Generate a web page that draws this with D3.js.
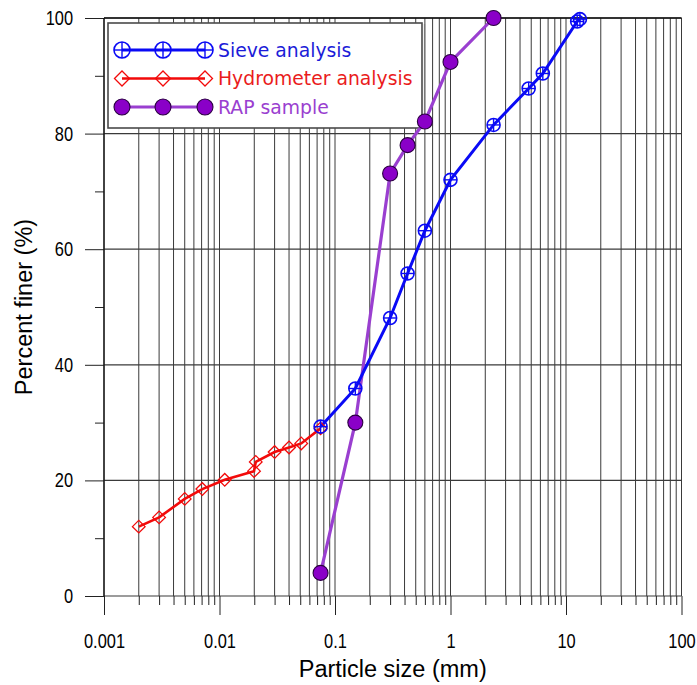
<!DOCTYPE html>
<html>
<head>
<meta charset="utf-8">
<script src="https://cdn.jsdelivr.net/npm/d3@7"></script>
<style>
  html, body { margin: 0; padding: 0; background: #fff; }
  svg { display: block; }
  .num { font-family: "Liberation Sans", Arial, sans-serif; font-size: 20px; fill: #000; }
  .title { font-family: "Liberation Sans", Arial, sans-serif; font-size: 23.5px; fill: #000; }
  .leg { font-family: "DejaVu Sans", Verdana, sans-serif; font-size: 18.8px; }
</style>
</head>
<body>
<svg id="chart" width="697" height="685"></svg>
<script>
// Grain-size distribution curves
const sieveSize    = [0.075, 0.15, 0.30, 0.425, 0.60, 1.0, 2.36, 4.75, 6.3, 12.5, 13.2];
const sievePassing = [29.3, 35.9, 48.1, 55.8, 63.2, 72.0, 81.5, 87.8, 90.4, 99.4, 99.8];

const hydroSize    = [0.002, 0.003, 0.005, 0.0071, 0.0111, 0.0199, 0.0206, 0.030, 0.040, 0.051, 0.075];
const hydroPassing = [12.0, 13.6, 16.8, 18.5, 20.1, 21.6, 23.2, 24.9, 25.7, 26.4, 29.0];

const rapSize    = [0.075, 0.15, 0.30, 0.425, 0.60, 1.0, 2.36];
const rapPassing = [4.0, 30.0, 73.1, 78.0, 82.1, 92.4, 100.0];

const xMajorTicks = [0.001, 0.01, 0.1, 1, 10, 100];
const xTickLabels = ["0.001", "0.01", "0.1", "1", "10", "100"];
const yMajorTicks = [0, 20, 40, 60, 80, 100];
const yMinorTicks = [10, 30, 50, 70, 90];

const seriesNames = ["Sieve analysis", "Hydrometer analysis", "RAP sample"];

const svg = d3.select("#chart");
const L = 104, R = 681.5, T = 18, B = 596;

const x = d3.scaleLog().domain([0.001, 100]).range([L, R]);
const y = d3.scaleLinear().domain([0, 100]).range([B, T]);

// minor log positions: 2..9 x 10^k
const xMinorTicks = [];
for (let k = -3; k < 2; k++) {
  for (let m = 2; m <= 9; m++) xMinorTicks.push(m * Math.pow(10, k));
}
const xAllTicks = xMinorTicks.concat(xMajorTicks);

// vertical grid
svg.append("g").selectAll("line").data(xAllTicks).join("line")
  .attr("x1", d => x(d)).attr("x2", d => x(d))
  .attr("y1", T).attr("y2", B)
  .attr("stroke", "#3a3a3a").attr("stroke-width", 1);

// horizontal grid
svg.append("g").selectAll("line").data(yMajorTicks).join("line")
  .attr("x1", L).attr("x2", R)
  .attr("y1", d => y(d)).attr("y2", d => y(d))
  .attr("stroke", "#3a3a3a").attr("stroke-width", 1.2);

// narrow the numeric tick labels
function condense(sel) {
  sel.attr("class", "num").attr("font-size", null).attr("font-family", null)
    .each(function () {
      const w = this.getComputedTextLength();
      d3.select(this).attr("textLength", w * 0.82).attr("lengthAdjust", "spacingAndGlyphs");
    });
}

// x axis: minor and major ticks below the frame
const gxMinor = svg.append("g").attr("transform", `translate(0,${B})`)
  .call(d3.axisBottom(x).tickValues(xMinorTicks).tickSize(9).tickFormat(""));
const gxMajor = svg.append("g").attr("transform", `translate(0,${B})`)
  .call(d3.axisBottom(x).tickValues(xMajorTicks).tickSize(19).tickPadding(19)
    .tickFormat((d, i) => xTickLabels[i]));
[gxMinor, gxMajor].forEach(g => {
  g.select(".domain").remove();
  g.selectAll(".tick line").attr("stroke", "#222");
});
condense(gxMajor.selectAll(".tick text"));

// y axis: minor and major ticks left of the frame
const gyMinor = svg.append("g").attr("transform", `translate(${L},0)`)
  .call(d3.axisLeft(y).tickValues(yMinorTicks).tickSize(9).tickFormat(""));
const gyMajor = svg.append("g").attr("transform", `translate(${L},0)`)
  .call(d3.axisLeft(y).tickValues(yMajorTicks).tickSize(19).tickPadding(12));
[gyMinor, gyMajor].forEach(g => {
  g.select(".domain").remove();
  g.selectAll(".tick line").attr("stroke", "#222");
});
condense(gyMajor.selectAll(".tick text"));

// frame lines (left axis and top)
svg.append("line").attr("x1", L).attr("x2", L).attr("y1", T).attr("y2", B)
  .attr("stroke", "#111").attr("stroke-width", 1.3);
svg.append("line").attr("x1", L).attr("x2", R).attr("y1", T).attr("y2", T)
  .attr("stroke", "#111").attr("stroke-width", 1.3);

// axis titles
svg.append("text").attr("class", "title")
  .attr("x", (L + R) / 2).attr("y", 677).attr("text-anchor", "middle")
  .text("Particle size (mm)");
svg.append("text").attr("class", "title")
  .attr("transform", `translate(32,${(T + B) / 2}) rotate(-90)`)
  .attr("text-anchor", "middle")
  .text("Percent finer (%)");

// marker drawers
const sieveColor = "#0a0af5", hydroColor = "#f20a0a";
const rapLine = "#9a3fd0", rapFill = "#8a00c8", rapEdge = "#2a0040";

function sieveMarker(g, cx, cy, r) {
  g.append("circle").attr("cx", cx).attr("cy", cy).attr("r", r)
    .attr("fill", "none").attr("stroke", sieveColor).attr("stroke-width", 1.6);
  g.append("line").attr("x1", cx - r).attr("x2", cx + r).attr("y1", cy).attr("y2", cy)
    .attr("stroke", sieveColor).attr("stroke-width", 1.4);
  g.append("line").attr("x1", cx).attr("x2", cx).attr("y1", cy - r).attr("y2", cy + r)
    .attr("stroke", sieveColor).attr("stroke-width", 1.4);
}
function hydroMarker(g, cx, cy, s) {
  g.append("path")
    .attr("d", `M${cx - s},${cy}L${cx},${cy - s}L${cx + s},${cy}L${cx},${cy + s}Z`)
    .attr("fill", "none").attr("stroke", hydroColor).attr("stroke-width", 1.3);
}
function rapMarker(g, cx, cy, r) {
  g.append("circle").attr("cx", cx).attr("cy", cy).attr("r", r)
    .attr("fill", rapFill).attr("stroke", rapEdge).attr("stroke-width", 1.1);
}

// legend (drawn beneath the data series)
const lg = svg.append("g");
lg.append("rect").attr("x", 108).attr("y", 23).attr("width", 314).attr("height", 105)
  .attr("fill", "#fff").attr("stroke", "#4a4a4a").attr("stroke-width", 1.6);
lg.append("line").attr("x1", 424.5).attr("x2", 424.5).attr("y1", 24).attr("y2", 129)
  .attr("stroke", "#777").attr("stroke-width", 1.2);

const rowY = [50, 78.5, 107];
const markX = [122, 163, 205];
const legColors = ["#1c1cd8", "#ea1c1c", "#9a3fd0"];

lg.append("line").attr("x1", markX[0]).attr("x2", markX[2]).attr("y1", rowY[0]).attr("y2", rowY[0])
  .attr("stroke", sieveColor).attr("stroke-width", 3);
markX.forEach(mx => sieveMarker(lg, mx, rowY[0], 8));
lg.append("line").attr("x1", markX[0]).attr("x2", markX[2]).attr("y1", rowY[1]).attr("y2", rowY[1])
  .attr("stroke", hydroColor).attr("stroke-width", 2.6);
markX.forEach(mx => hydroMarker(lg, mx, rowY[1], 7.5));
lg.append("line").attr("x1", markX[0]).attr("x2", markX[2]).attr("y1", rowY[2]).attr("y2", rowY[2])
  .attr("stroke", rapLine).attr("stroke-width", 3.2);
markX.forEach(mx => rapMarker(lg, mx, rowY[2], 8));

seriesNames.forEach((name, i) => {
  lg.append("text").attr("class", "leg")
    .attr("x", 218).attr("y", rowY[i]).attr("dy", "0.36em")
    .attr("fill", legColors[i]).text(name);
});

const line = d3.line().x(d => x(d[0])).y(d => y(d[1]));
const rapData = rapSize.map((d, i) => [d, rapPassing[i]]);
const hydroData = hydroSize.map((d, i) => [d, hydroPassing[i]]);
const sieveData = sieveSize.map((d, i) => [d, sievePassing[i]]);

// RAP sample
svg.append("path").datum(rapData).attr("d", line)
  .attr("fill", "none").attr("stroke", rapLine).attr("stroke-width", 3.2);
// Hydrometer
svg.append("path").datum(hydroData).attr("d", line)
  .attr("fill", "none").attr("stroke", hydroColor).attr("stroke-width", 2.6);
// Sieve
svg.append("path").datum(sieveData).attr("d", line)
  .attr("fill", "none").attr("stroke", sieveColor).attr("stroke-width", 3);

const gm = svg.append("g");
rapData.forEach(d => rapMarker(gm, x(d[0]), y(d[1]), 7.5));
hydroData.forEach(d => hydroMarker(gm, x(d[0]), y(d[1]), 6.3));
sieveData.forEach(d => sieveMarker(gm, x(d[0]), y(d[1]), 6.5));
</script>
</body>
</html>
